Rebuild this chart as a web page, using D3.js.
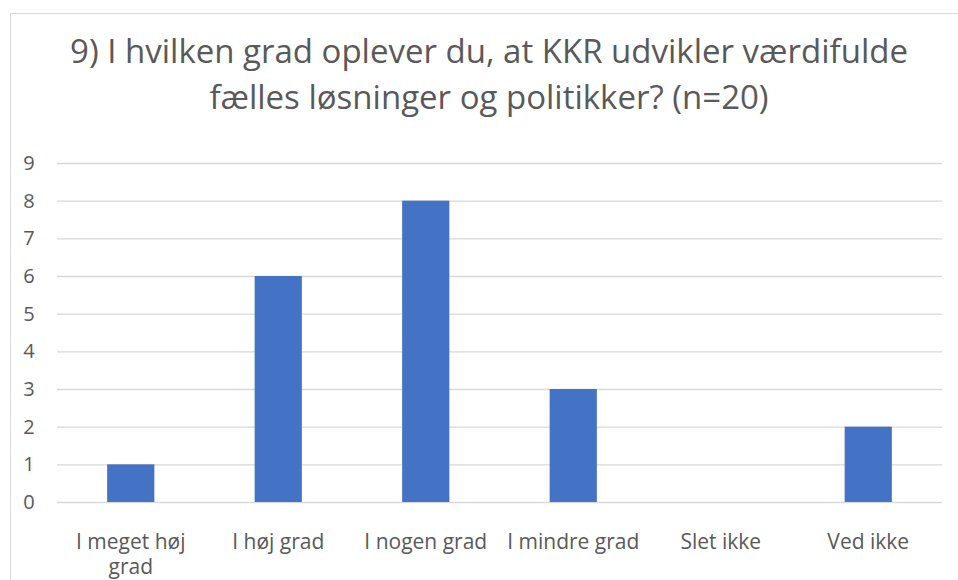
<!DOCTYPE html>
<html>
<head>
<meta charset="utf-8">
<script src="https://cdn.jsdelivr.net/npm/d3@7"></script>
<style>
  body { margin: 0; background: #fff; }
  text { font-family: "Open Sans", "Noto Sans", sans-serif; fill: #595959; }
</style>
</head>
<body>
<svg id="chart" width="958" height="580"></svg>
<script>
const categories = ["I meget høj grad", "I høj grad", "I nogen grad", "I mindre grad", "Slet ikke", "Ved ikke"];
const values = [1, 6, 8, 3, 0, 2];
const yTicks = [0, 1, 2, 3, 4, 5, 6, 7, 8, 9];
const titleLines = ["9) I hvilken grad oplever du, at KKR udvikler værdifulde", "fælles løsninger og politikker? (n=20)"];

const svg = d3.select("#chart");
const margin = { left: 57, right: 16, top: 163, bottom: 78 };
const width = 958, height = 580;

// chart area border
svg.append("rect")
  .attr("x", 10.5).attr("y", 13.5)
  .attr("width", 960).attr("height", 600)
  .attr("fill", "none").attr("stroke", "#d9d9d9");

const x = d3.scaleBand()
  .domain(categories)
  .range([margin.left, width - margin.right])
  .paddingInner(0.68).paddingOuter(0.34);

const y = d3.scaleLinear()
  .domain([0, 9])
  .range([height - margin.bottom, margin.top]);

svg.append("g")
  .selectAll("text")
  .data(titleLines)
  .join("text")
  .attr("x", 489)
  .attr("y", (d, i) => 63 + i * 46)
  .attr("text-anchor", "middle")
  .style("font-size", "33px")
  .text(d => d);

// gridlines
svg.append("g")
  .selectAll("line")
  .data(yTicks)
  .join("line")
  .attr("x1", margin.left).attr("x2", width - margin.right)
  .attr("y1", d => y(d) + 0.5).attr("y2", d => y(d) + 0.5)
  .attr("stroke", "#d9d9d9").attr("stroke-width", 1.3);

// y labels
svg.append("g")
  .selectAll("text")
  .data(yTicks)
  .join("text")
  .attr("x", 29)
  .attr("y", d => y(d))
  .attr("dy", "0.35em")
  .attr("text-anchor", "middle")
  .style("font-size", "20px")
  .text(d => d);

// bars
svg.append("g")
  .selectAll("rect")
  .data(values)
  .join("rect")
  .attr("x", (d, i) => x(categories[i]))
  .attr("y", d => y(d))
  .attr("width", x.bandwidth())
  .attr("height", d => y(0) - y(d))
  .attr("fill", "#4472c4");

// category labels, wrapped to the band
const step = x.step();
const labels = svg.append("g")
  .selectAll("text")
  .data(categories)
  .join("text")
  .attr("x", d => x(d) + x.bandwidth() / 2)
  .attr("y", 549)
  .attr("text-anchor", "middle")
  .style("font-size", "21px");

labels.each(function (d) {
  const t = d3.select(this);
  const words = d.split(" ");
  let line = [];
  let tspan = t.append("tspan").attr("x", t.attr("x")).attr("dy", 0);
  words.forEach(w => {
    line.push(w);
    tspan.text(line.join(" "));
    if (tspan.node().getComputedTextLength() > step - 10 && line.length > 1) {
      line.pop();
      tspan.text(line.join(" "));
      line = [w];
      tspan = t.append("tspan").attr("x", t.attr("x")).attr("dy", "1.2em").text(w);
    }
  });
});
</script>
</body>
</html>
